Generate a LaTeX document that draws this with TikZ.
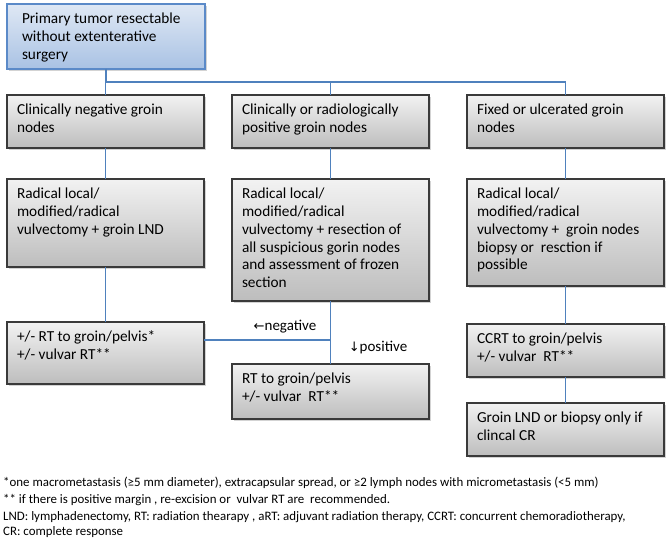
\documentclass[tikz,border=0pt]{standalone}
\usepackage{fontspec}
\setmainfont{Carlito}
\newfontfamily\arrowfont{DejaVu Sans}
\usetikzlibrary{shadows}
\definecolor{conn}{HTML}{4F81BD}
\definecolor{bord}{HTML}{3A3A3A}
\definecolor{gtop}{HTML}{F2F2F2}
\definecolor{gbot}{HTML}{BDBDBD}
\definecolor{btop}{HTML}{DFE8F4}
\definecolor{bbot}{HTML}{A9C2E4}
\definecolor{bbord}{HTML}{5B8AC8}
\newcommand{\bxt}[3]{\parbox[t][#2][t]{#1}{\raggedright #3}}
\tikzset{
  gbox/.style={draw=bord, line width=1.2pt, top color=gtop, bottom color=gbot,
    drop shadow={shadow xshift=2pt, shadow yshift=-2pt, opacity=0.35, fill=gray},
    anchor=north west, inner xsep=10pt, inner ysep=9pt, outer sep=0pt,
    font=\fontsize{15.3}{17.8}\selectfont},
  bbox/.style={gbox, draw=bbord, top color=btop, bottom color=bbot, inner xsep=15pt},
  link/.style={draw=conn, line width=1.4pt},
  lbl/.style={font=\fontsize{15}{17}\selectfont, inner sep=0pt},
  fnote/.style={anchor=base west, inner sep=0pt, font=\fontsize{12.9}{14}\selectfont}
}
\begin{document}
\begin{tikzpicture}[x=1pt, y=-1pt]
\useasboundingbox (0,0) rectangle (670,540);
\node[bbox] (top) at (7,4) {\bxt{168pt}{47pt}{Primary tumor resectable\\ without extenterative\\ surgery}};
\node[gbox] (r1l) at (7,95) {\bxt{177pt}{35pt}{Clinically negative groin\\ nodes}};
\node[gbox] (r1m) at (232,95) {\bxt{177pt}{35pt}{Clinically or radiologically\\ positive groin nodes}};
\node[gbox] (r1r) at (467,95) {\bxt{177pt}{35pt}{Fixed or ulcerated groin\\ nodes}};
\node[gbox] (r2l) at (7,179) {\bxt{177pt}{70pt}{Radical local/\\ modified/radical\\ vulvectomy + groin LND}};
\node[gbox] (r2m) at (232,179) {\bxt{177pt}{104pt}{Radical local/\\ modified/radical\\ vulvectomy + resection of\\ all suspicious gorin nodes\\ and assessment of frozen\\ section}};
\node[gbox] (r2r) at (467,179) {\bxt{177pt}{89pt}{Radical local/\\ modified/radical\\ vulvectomy +\ \ groin nodes\\ biopsy or\ \ resction if\\ possible}};
\node[gbox] (r3l) at (7,322) {\bxt{177pt}{44pt}{+/- RT to groin/pelvis*\\ +/- vulvar RT**}};
\node[gbox] (r3m) at (232,364) {\bxt{177pt}{37pt}{RT to groin/pelvis\\ +/- vulvar\ \ RT**}};
\node[gbox] (r3r) at (467,324) {\bxt{177pt}{35pt}{CCRT to groin/pelvis\\ +/- vulvar\ \ RT**}};
\node[gbox] (r4r) at (467,403) {\bxt{177pt}{35pt}{Groin LND or biopsy only if\\ clincal CR}};
\coordinate (bus) at (0,82);
\coordinate (negy) at (0,340);
\draw[link] (top.south) -- (top.south |- bus);
\draw[link] (r1l.north |- bus) -- (r1r.north |- bus);
\draw[link] (r1l.north |- bus) -- (r1l.north);
\draw[link] (r1m.north |- bus) -- (r1m.north);
\draw[link] (r1r.north |- bus) -- (r1r.north);
\draw[link] (r1l.south) -- (r2l.north);
\draw[link] (r2l.south) -- (r3l.north);
\draw[link] (r1m.south) -- (r2m.north);
\draw[link] (r2m.south) -- (r3m.north);
\draw[link] (r2m.south |- negy) -- (r3l.east |- negy);
\draw[link] (r1r.south) -- (r2r.north);
\draw[link] (r2r.south) -- (r3r.north);
\draw[link] (r3r.south) -- (r4r.north);
\node[lbl] (neg) at (285,327) {{\arrowfont\fontsize{13}{15}\selectfont ←}negative};
\node[lbl] (pos) at (378,348) {{\arrowfont\fontsize{13}{15}\selectfont ↓}positive};
\node[fnote] (f1) at (3,486) {*one macrometastasis (≥5 mm diameter), extracapsular spread, or ≥2 lymph nodes with micrometastasis (<5 mm)};
\node[fnote] (f2) at (3,503) {** if there is positive margin , re-excision or\ \ vulvar RT are\ \ recommended.};
\node[fnote] (f3) at (3,520) {LND: lymphadenectomy, RT: radiation thearapy , aRT: adjuvant radiation therapy, CCRT: concurrent chemoradiotherapy,};
\node[fnote] (f4) at (3,535) {CR: complete response};
\end{tikzpicture}
\end{document}
